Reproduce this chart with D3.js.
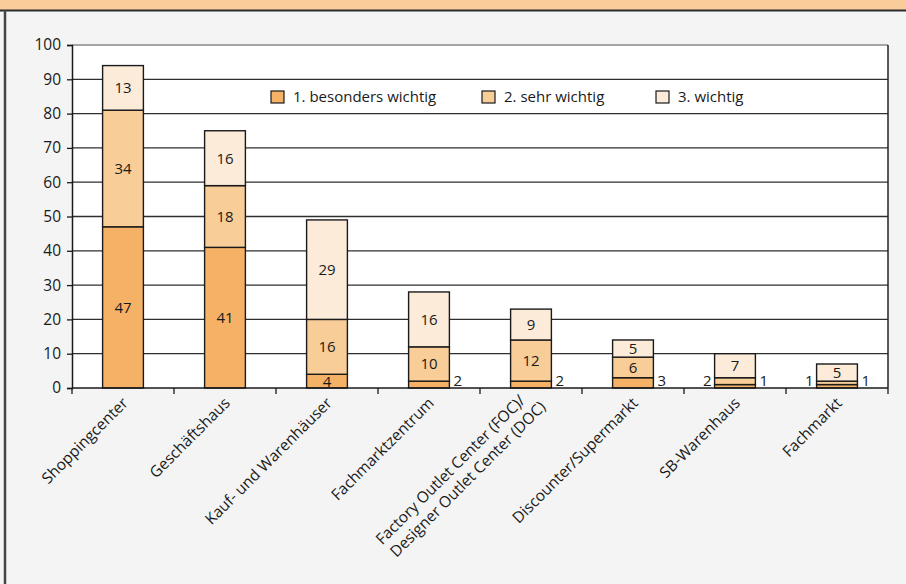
<!DOCTYPE html>
<html>
<head>
<meta charset="utf-8">
<script src="https://cdn.jsdelivr.net/npm/d3@7"></script>
<style>
  html, body { margin: 0; padding: 0; background: #f4f4f4; }
  svg { display: block; }
  text { font-family: "Open Sans", "Noto Sans", sans-serif; fill: #1a1a1a; }
</style>
</head>
<body>
<svg id="chart" width="906" height="584"></svg>
<script>
// Categories (multi-line labels split by "\n")
const categories = [
  "Shoppingcenter",
  "Geschäftshaus",
  "Kauf- und Warenhäuser",
  "Fachmarktzentrum",
  "Factory Outlet Center (FOC)/\nDesigner Outlet Center (DOC)",
  "Discounter/Supermarkt",
  "SB-Warenhaus",
  "Fachmarkt"
];
const seriesNames = ["1. besonders wichtig", "2. sehr wichtig", "3. wichtig"];
const besondersWichtig = [47, 41, 4, 2, 2, 3, 1, 1];
const sehrWichtig      = [34, 18, 16, 10, 12, 6, 2, 1];
const wichtig          = [13, 16, 29, 16, 9, 5, 7, 5];
const yTicks = [0, 10, 20, 30, 40, 50, 60, 70, 80, 90, 100];

const colors = ["#f5b266", "#f8cd98", "#fcebd9"];

const svg = d3.select("#chart");
const W = 906, H = 584;
const margin = { left: 72, right: 18, top: 45, bottom: 196 };
const plotW = W - margin.left - margin.right;
const plotH = H - margin.top - margin.bottom;

// Frame: header band and left rule
svg.append("rect").attr("x", 0).attr("y", 0).attr("width", W).attr("height", 10).attr("fill", "#f9cc9a");
svg.append("line").attr("x1", 0).attr("x2", W).attr("y1", 10.5).attr("y2", 10.5)
  .attr("stroke", "#2b2b2b").attr("stroke-width", 2);
svg.append("line").attr("x1", 5).attr("x2", 5).attr("y1", 10).attr("y2", H)
  .attr("stroke", "#444").attr("stroke-width", 2.5);

const g = svg.append("g").attr("transform", `translate(${margin.left},${margin.top})`);

const x = d3.scaleBand().domain(categories).range([0, plotW]).paddingInner(0.6).paddingOuter(0.3);
const xBand = d3.scaleBand().domain(categories).range([0, plotW]).padding(0);
const y = d3.scaleLinear().domain([0, 100]).range([plotH, 0]);

// Plot area
g.append("rect").attr("width", plotW).attr("height", plotH).attr("fill", "#fff");

// Gridlines
g.selectAll("line.grid").data(yTicks.filter(d => d > 0)).join("line")
  .attr("class", "grid")
  .attr("x1", 0).attr("x2", plotW)
  .attr("y1", d => y(d)).attr("y2", d => y(d))
  .attr("stroke", d => d === 100 ? "#8a8a8a" : "#2e2e2e").attr("stroke-width", 1.3);
g.append("line").attr("x1", plotW).attr("x2", plotW).attr("y1", 0).attr("y2", plotH)
  .attr("stroke", "#222").attr("stroke-width", 1.5);

// Stacked data
const rows = categories.map((c, i) => ({ cat: c, s0: besondersWichtig[i], s1: sehrWichtig[i], s2: wichtig[i] }));
const stack = d3.stack().keys(["s0", "s1", "s2"])(rows);

const layers = g.selectAll("g.layer").data(stack).join("g")
  .attr("class", "layer").attr("fill", (d, i) => colors[i]);

layers.selectAll("rect").data(d => d).join("rect")
  .attr("x", d => x(d.data.cat))
  .attr("y", d => y(d[1]))
  .attr("width", x.bandwidth())
  .attr("height", d => y(d[0]) - y(d[1]))
  .attr("stroke", "#1a1a1a").attr("stroke-width", 1.4);

// Value labels: inside when the segment is tall enough, otherwise beside the bar
stack.forEach((layer, si) => {
  layer.forEach(d => {
    const v = d[1] - d[0];
    const h = y(d[0]) - y(d[1]);
    const cx = x(d.data.cat) + x.bandwidth() / 2;
    const cy = (y(d[0]) + y(d[1])) / 2;
    let tx = cx, ty = cy, anchor = "middle";
    if (h < 12 && si < 2 && !(si === 0 && v >= 4)) {
      if (si === 0) { tx = x(d.data.cat) + x.bandwidth() + 4; anchor = "start"; ty = Math.min(cy, plotH - 7); }
      else { tx = x(d.data.cat) - 3; anchor = "end"; ty = Math.min(cy, plotH - 7); }
    }
    g.append("text").attr("x", tx).attr("y", ty).attr("dy", "0.36em")
      .attr("text-anchor", anchor).attr("font-size", 15).text(v);
  });
});

// Y axis
const yAxis = g.append("g").call(d3.axisLeft(y).tickValues(yTicks).tickSize(5).tickPadding(6));
yAxis.select(".domain").attr("stroke", "#1a1a1a").attr("stroke-width", 1.5);
yAxis.selectAll(".tick line").attr("stroke", "#1a1a1a").attr("stroke-width", 1.3);
yAxis.selectAll(".tick text").attr("font-size", 15.5).attr("fill", "#1a1a1a")
  .style("font-family", "'Open Sans', sans-serif");

// X axis with ticks between categories
const xAxisG = g.append("g").attr("transform", `translate(0,${plotH})`);
xAxisG.append("line").attr("x1", 0).attr("x2", plotW).attr("stroke", "#1a1a1a").attr("stroke-width", 1.5);
xAxisG.selectAll("line.tk").data(d3.range(categories.length + 1)).join("line")
  .attr("class", "tk")
  .attr("x1", i => i * xBand.step()).attr("x2", i => i * xBand.step())
  .attr("y1", 0).attr("y2", 6).attr("stroke", "#1a1a1a").attr("stroke-width", 1.3);

xAxisG.selectAll("text.cat").data(categories).join("text")
  .attr("class", "cat")
  .attr("text-anchor", "end")
  .attr("font-size", 15.5)
  .attr("transform", d => `translate(${xBand(d) + xBand.bandwidth() / 2 + 6},${16}) rotate(-45)`)
  .each(function(d) {
    const lines = d.split("\n");
    const t = d3.select(this);
    lines.forEach((ln, k) => {
      t.append("tspan").attr("x", 0).attr("dx", lines.length > 1 ? (k === 0 ? -6 : 4) : 0)
        .attr("y", (k - (lines.length - 1) / 2) * 19).text(ln);
    });
  });

// Legend
const legend = g.append("g").attr("transform", `translate(${199},${46})`);
const legendX = [0, 211, 385];
seriesNames.forEach((n, i) => {
  const lg = legend.append("g").attr("transform", `translate(${legendX[i]},0)`);
  lg.append("rect").attr("width", 13).attr("height", 12).attr("fill", colors[i])
    .attr("stroke", "#1a1a1a").attr("stroke-width", 1.2);
  lg.append("text").attr("x", 22).attr("y", 6).attr("dy", "0.36em").attr("font-size", 15).text(n);
});
</script>
</body>
</html>
